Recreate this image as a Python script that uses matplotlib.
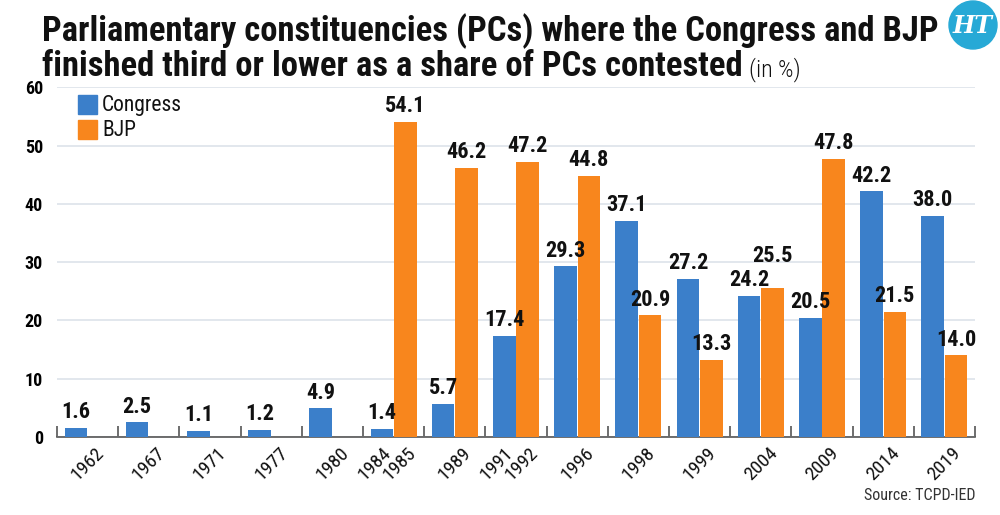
import matplotlib
matplotlib.use("Agg")
import matplotlib.pyplot as plt
from matplotlib import font_manager
from matplotlib.patches import Ellipse, Rectangle
import numpy as np

# data
groups = ["1962", "1967", "1971", "1977", "1980", "1984/1985", "1989", "1991/1992",
          "1996", "1998", "1999", "2004", "2009", "2014", "2019"]
congress = [1.6, 2.5, 1.1, 1.2, 4.9, 1.4, 5.7, 17.4, 29.3, 37.1, 27.2, 24.2, 20.5, 42.2, 38.0]
bjp = [None, None, None, None, None, 54.1, 46.2, 47.2, 44.8, 20.9, 13.3, 25.5, 47.8, 21.5, 14.0]

BLUE = "#3b7fca"
ORANGE = "#f8861d"
GRID = "#dde3ea"
TEXT = "#111111"

names = {f.name for f in font_manager.fontManager.ttflist}
cand = ["Roboto Condensed", "Liberation Sans Narrow", "Open Sans Condensed", "Roboto",
        "Liberation Sans"]
cond = next((c for c in cand if c in names), "DejaVu Sans")
plt.rcParams["font.family"] = [cond, "DejaVu Sans"]

fig = plt.figure(figsize=(10, 5.15), dpi=100)
ax = fig.add_axes([0.057, 0.1515, 0.918, 0.6786])

x = np.arange(len(groups))
w = 0.37
off = 0.19

for i in range(len(groups)):
    ax.bar(x[i] - off, congress[i], width=w, color=BLUE, zorder=3)
    ax.text(x[i] - off, congress[i] + 0.8, f"{congress[i]:.1f}", ha="center", va="bottom",
            fontsize=16, fontweight="bold", color=TEXT, zorder=4)
    if bjp[i] is not None:
        ax.bar(x[i] + off, bjp[i], width=w, color=ORANGE, zorder=3)
        lift = 3.6 if groups[i] == "2004" else 0.8
        ax.text(x[i] + off, bjp[i] + lift, f"{bjp[i]:.1f}", ha="center", va="bottom",
                fontsize=16, fontweight="bold", color=TEXT, zorder=4)

ax.set_xlim(-0.5, len(groups) - 0.5)
ax.set_ylim(0, 60)
ax.set_yticks(range(0, 61, 10))
ax.yaxis.grid(True, color=GRID, linewidth=1.2, zorder=0)
ax.tick_params(axis="y", length=0, pad=10, labelsize=13)
for lab in ax.get_yticklabels():
    lab.set_fontweight("bold")

# group boundary ticks on the baseline
ax.set_xticks(np.arange(-0.5, len(groups), 1.0))
ax.set_xticklabels([])
ax.tick_params(axis="x", direction="in", length=8, color="#555555", width=1.2)
for s in ["left", "right", "top"]:
    ax.spines[s].set_visible(False)
ax.spines["bottom"].set_color("#555555")
ax.spines["bottom"].set_linewidth(1.2)

# year labels under the bars
for i, g in enumerate(groups):
    if "/" in g:
        a, b = g.split("/")
        spots = [(x[i] - off - 0.13, a), (x[i] + off - 0.1, b)]
    else:
        spots = [(x[i], g)]
    for xp, t in spots:
        ax.text(xp, -4.6, t, rotation=45, ha="center", va="center", fontsize=14,
                color=TEXT, clip_on=False)

# legend
fig.patches.append(Rectangle((0.078, 1 - 114 / 515), 0.019, 19 / 515, color=BLUE,
                             transform=fig.transFigure))
fig.patches.append(Rectangle((0.078, 1 - 139 / 515), 0.019, 19 / 515, color=ORANGE,
                             transform=fig.transFigure))
fig.text(0.102, 1 - 105 / 515, "Congress", fontsize=15.5, va="center", color=TEXT)
fig.text(0.102, 1 - 130 / 515, "BJP", fontsize=15.5, va="center", color=TEXT)

# title, sized so the first line spans the same width as in the original
t1 = fig.text(0.042, 1 - 41 / 515, "Parliamentary constituencies (PCs) where the Congress and BJP",
              fontsize=25, fontweight="bold", color=TEXT)
t2 = fig.text(0.042, 1 - 76 / 515, "finished third or lower as a share of PCs contested",
              fontsize=25, fontweight="bold", color=TEXT)
fig.canvas.draw()
r = fig.canvas.get_renderer()
fs = 25 * 895 / t1.get_window_extent(r).width
t1.set_fontsize(fs)
t2.set_fontsize(fs)
fig.canvas.draw()
bb = t2.get_window_extent(r)
fig.text(bb.x1 / 1000 + 0.006, 1 - 76 / 515, "(in %)", fontsize=fs * 0.7, color=TEXT,
         fontweight="light")

# HT logo
fig.patches.append(Ellipse((973 / 1000, 1 - 25 / 515), 48 / 1000, 48 / 515, color="#27a9d6",
                           transform=fig.transFigure))
fig.text(973 / 1000, 1 - 26 / 515, "HT", fontsize=17, color="white", ha="center",
         va="center", family="DejaVu Serif", fontstyle="italic", fontweight="bold")

fig.text(0.975, 1 - 495 / 515, "Source: TCPD-IED", fontsize=11.5, ha="right", va="center",
         color="#333333")

fig.savefig("out.png", dpi=100)
